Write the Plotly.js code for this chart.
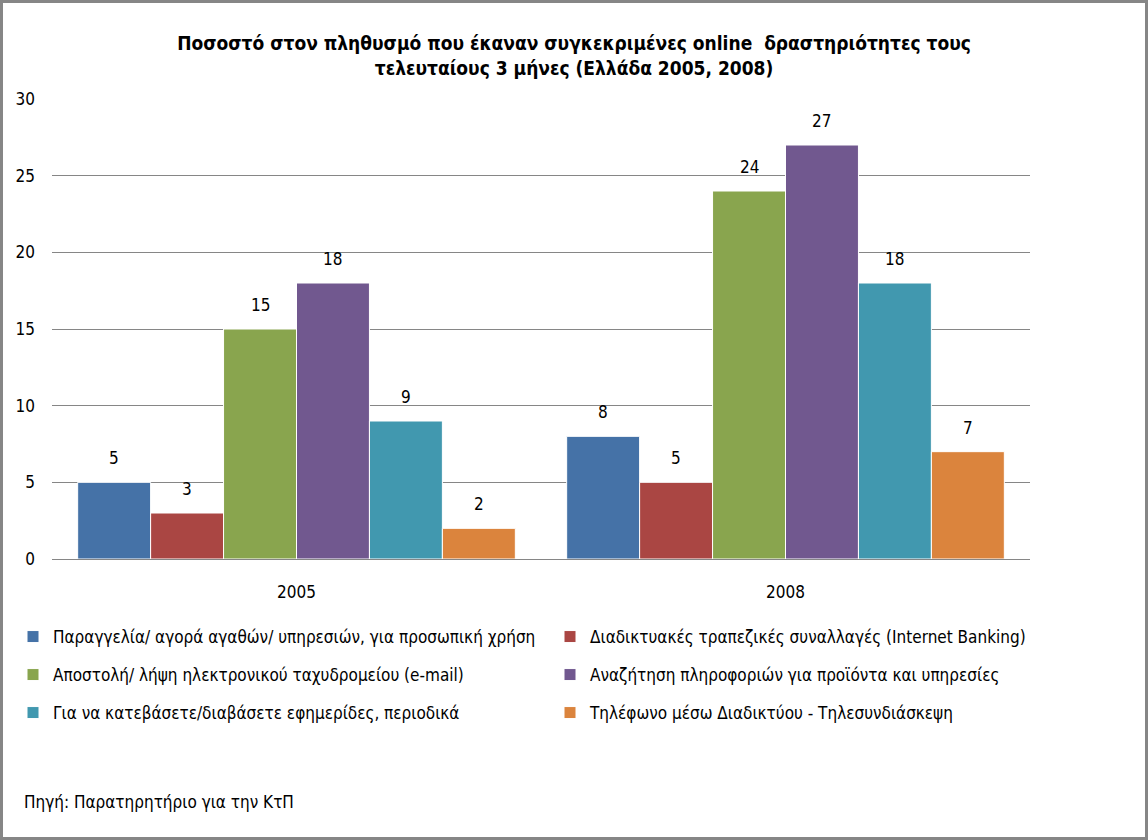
<!DOCTYPE html>
<html>
<head>
<meta charset="utf-8">
<script src="https://cdn.plot.ly/plotly-3.0.1.min.js"></script>
<style>
html,body{margin:0;padding:0;background:#fff;}
#chart{width:1148px;height:840px;}
</style>
</head>
<body>
<div id="chart"></div>
<script>
const years = ["2005", "2008"];
const seriesNames = [
  "Παραγγελία/ αγορά αγαθών/ υπηρεσιών, για προσωπική χρήση",
  "Διαδικτυακές τραπεζικές συναλλαγές (Internet Banking)",
  "Αποστολή/ λήψη ηλεκτρονικού ταχυδρομείου (e-mail)",
  "Αναζήτηση πληροφοριών για προϊόντα και υπηρεσίες",
  "Για να κατεβάσετε/διαβάσετε εφημερίδες, περιοδικά",
  "Τηλέφωνο μέσω Διαδικτύου - Τηλεσυνδιάσκεψη"
];
const ordering = [5, 8];
const banking = [3, 5];
const email = [15, 24];
const searchInfo = [18, 27];
const newspapers = [9, 18];
const voip = [2, 7];
const seriesValues = [ordering, banking, email, searchInfo, newspapers, voip];
const colors = ["#4572A7", "#AA4643", "#89A54E", "#71588F", "#4198AF", "#DB843D"];
const yTicks = [0, 5, 10, 15, 20, 25, 30];

const FONT = "'Liberation Sans Narrow', 'DejaVu Sans Condensed', 'Arial Narrow', sans-serif";

const plotL = 52, plotR = 1030, plotT = 99, plotB = 559;
const W = 1148, H = 840;
const pw = plotR - plotL, ph = plotB - plotT;
const px = v => (v - plotL) / pw;
const py = v => (plotB - v) / ph;
const BARGAP = 0.105;

const legendKeys = seriesNames.map((_, i) => i === 0 ? "legend" : "legend" + (i + 1));

const traces = seriesValues.map((vals, i) => ({
  type: "bar",
  name: seriesNames[i],
  x: years,
  y: vals,
  marker: {color: colors[i], line: {color: "#ffffff", width: 1}},
  legend: legendKeys[i],
  hoverinfo: "name+y"
}));

// data labels above each bar, positioned from the bar layout
const catPx = pw / years.length;
const barPx = catPx * (1 - BARGAP) / seriesValues.length;
const labelAnnotations = [];
seriesValues.forEach((vals, i) => {
  vals.forEach((v, j) => {
    labelAnnotations.push({
      x: j, y: v, xref: "x", yref: "y",
      text: String(v),
      showarrow: false,
      xanchor: "center", yanchor: "middle",
      xshift: (i - (seriesValues.length - 1) / 2) * barPx,
      yshift: 24,
      font: {family: FONT, size: 17, color: "#000"}
    });
  });
});

// legend grid: two columns, three rows
const legendColX = [13, 550];
const legendRowY = [637, 675, 713];

const layout = {
  width: W,
  height: H,
  margin: {l: plotL, r: W - plotR, t: plotT, b: H - plotB},
  paper_bgcolor: "#fff",
  plot_bgcolor: "#fff",
  font: {family: FONT, size: 17, color: "#000"},
  title: {
    text: "<b>Ποσοστό στον πληθυσμό που έκαναν συγκεκριμένες online  δραστηριότητες τους<br>τελευταίους 3 μήνες (Ελλάδα 2005, 2008)</b>",
    x: 0.5, xref: "container", xanchor: "center",
    y: 1 - 50 / H, yref: "container", yanchor: "middle",
    font: {family: FONT, size: 19, color: "#000"}
  },
  barmode: "group",
  bargap: BARGAP,
  bargroupgap: 0,
  xaxis: {
    type: "category",
    range: [-0.5, years.length - 0.5],
    showgrid: false,
    showline: false,
    ticks: "",
    ticklabelstandoff: 21,
    tickfont: {family: FONT, size: 17, color: "#000"}
  },
  yaxis: {
    range: [0, 30],
    tickvals: yTicks,
    ticktext: yTicks.map(String),
    showgrid: true,
    gridcolor: "#868686",
    gridwidth: 1,
    zeroline: true,
    zerolinecolor: "#868686",
    zerolinewidth: 1,
    showline: false,
    ticks: "",
    ticklabelstandoff: 16,
    tickfont: {family: FONT, size: 17, color: "#000"}
  },
  showlegend: true,
  annotations: labelAnnotations.concat([{
    text: "Πηγή: Παρατηρητήριο για την ΚτΠ",
    xref: "paper", yref: "paper",
    x: px(22), y: py(802),
    xanchor: "left", yanchor: "middle",
    showarrow: false,
    font: {family: FONT, size: 17, color: "#000"}
  }]),
  shapes: [{
    type: "rect", xref: "paper", yref: "paper",
    x0: px(1.5), x1: px(W - 1.5), y0: py(H - 1.5), y1: py(1.5),
    line: {color: "#868686", width: 3},
    fillcolor: "rgba(0,0,0,0)",
    layer: "above"
  }]
};

legendKeys.forEach((key, i) => {
  layout[key] = {
    orientation: "v",
    x: px(legendColX[i % 2]),
    y: py(legendRowY[Math.floor(i / 2)]),
    xanchor: "left",
    yanchor: "middle",
    font: {family: FONT, size: 17, color: "#000"},
    bgcolor: "rgba(0,0,0,0)",
    itemwidth: 30
  };
});

Plotly.newPlot("chart", traces, layout, {displayModeBar: false, responsive: false});
</script>
</body>
</html>
